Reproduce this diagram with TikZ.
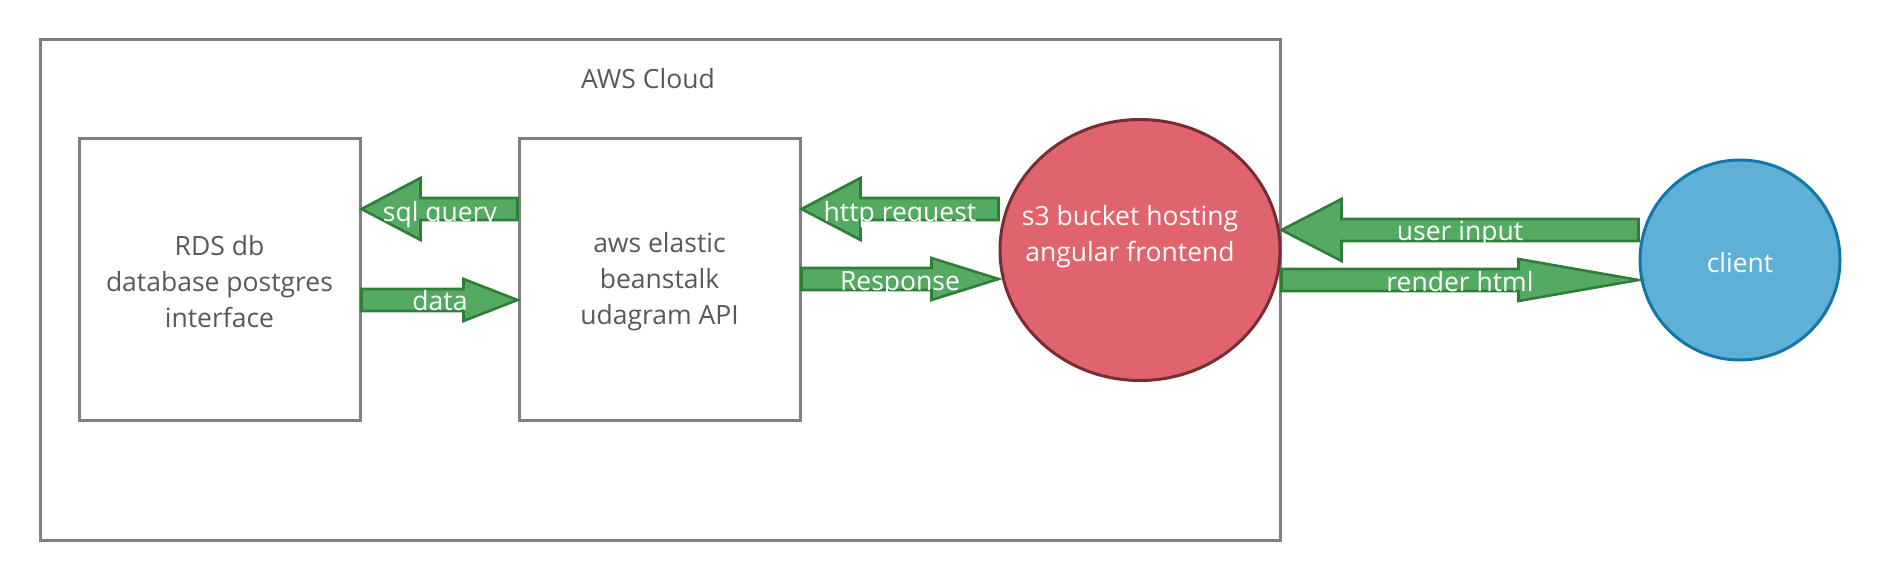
\documentclass[tikz,border=0pt]{standalone}
\usepackage{fontspec}
\setmainfont{Open Sans}
\usetikzlibrary{calc,shapes.geometric}
\definecolor{boxgray}{HTML}{808080}
\definecolor{txtgray}{HTML}{595959}
\definecolor{arrfill}{HTML}{54AA61}
\definecolor{arrline}{HTML}{2F7D38}
\definecolor{s3fill}{HTML}{E0646E}
\definecolor{s3line}{HTML}{7A2C35}
\definecolor{clfill}{HTML}{5EB0D6}
\definecolor{clline}{HTML}{1276A8}
% #1 tail, #2 tip, #3 shaft half, #4 head half, #5 head base offset from tip (signed)
\newcommand{\barrow}[5]{%
  \draw[blockarrow] let \p1=(#1), \p2=(#2) in
    ({\x1},{\y1+#3}) -- ({\x2+#5},{\y1+#3}) -- ({\x2+#5},{\y1+#4}) -- (\p2)
    -- ({\x2+#5},{\y1-#4}) -- ({\x2+#5},{\y1-#3}) -- ({\x1},{\y1-#3}) -- cycle;}
\begin{document}
\begin{tikzpicture}[x=1pt,y=-1pt,
  every node/.style={font=\fontsize{26.5}{36}\selectfont},
  graybox/.style={draw=boxgray,line width=3pt,fill=white,inner sep=0pt},
  boxtext/.style={text=txtgray,align=center,inner sep=0pt},
  blockarrow/.style={draw=arrline,fill=arrfill,line width=2.6pt,line join=miter},
  arrlabel/.style={text=white,anchor=base,inner sep=0pt}]
\useasboundingbox (0,0) rectangle (1880,580);
% AWS cloud
\node[graybox,minimum width=1240pt,minimum height=500pt] (aws) at (660,290) {};
\node[text=txtgray,anchor=base,inner sep=0pt] (awslbl) at (648,89) {AWS Cloud};
% boxes
\node[graybox,minimum width=281pt,minimum height=281pt] (rds) at (219.5,279.5) {};
\node[boxtext] (rdstxt) at (219.5,282) {RDS db\\database postgres\\interface};
\node[graybox,minimum width=281pt,minimum height=281pt] (api) at (659.5,279.5) {};
\node[boxtext] (apitxt) at (659.5,282) {aws elastic\\beanstalk\\udagram API};
% s3 and client
\node[ellipse,draw=s3line,fill=s3fill,line width=3pt,minimum width=280pt,minimum height=261pt,inner sep=0pt] (s3) at (1140,250) {};
\node[text=white,align=center,inner sep=0pt] (s3txt) at (1130,236.5) {s3 bucket hosting\\angular frontend};
\node[circle,draw=clline,fill=clfill,line width=3pt,minimum size=200pt,inner sep=0pt] (client) at (1740,260) {};
\node[text=white,inner sep=0pt] (cltxt) at (1740,262.5) {client};
% arrows
\coordinate (sqlA) at (api.west |- 0,209);
\coordinate (sqlB) at (rds.east |- 0,209);
\barrow{sqlA}{sqlB}{11pt}{31pt}{59pt}
\coordinate (dataA) at (rds.east |- 0,300);
\coordinate (dataB) at (api.west |- 0,300);
\barrow{dataA}{dataB}{11pt}{21pt}{-54pt}
\coordinate (httpA) at (s3.west |- 0,209);
\coordinate (httpB) at (api.east |- 0,209);
\barrow{httpA}{httpB}{11pt}{31pt}{59pt}
\coordinate (respA) at (api.east |- 0,279);
\coordinate (respB) at (s3.west |- 0,279);
\barrow{respA}{respB}{11pt}{21pt}{-67pt}
\coordinate (uiA) at (client.west |- 0,230);
\coordinate (uiB) at (s3.east |- 0,230);
\barrow{uiA}{uiB}{11pt}{31pt}{60pt}
\coordinate (rhA) at (s3.east |- 0,280);
\coordinate (rhB) at (client.west |- 0,280);
\barrow{rhA}{rhB}{11pt}{21pt}{-120pt}
% labels
\node[arrlabel] at (440,221.5) {sql query};
\node[arrlabel] at (440,310.5) {data};
\node[arrlabel] at (900,221.5) {http request};
\node[arrlabel] at (900,290.5) {Response};
\node[arrlabel] at (1460,240.5) {user input};
\node[arrlabel] at (1460,291.5) {render html};
\end{tikzpicture}
\end{document}
